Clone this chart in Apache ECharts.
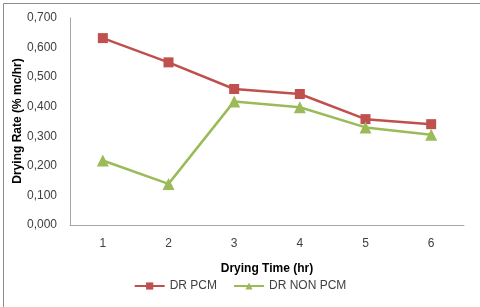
<!DOCTYPE html>
<html><head><meta charset="utf-8">
<script src="https://cdn.jsdelivr.net/npm/echarts@6/dist/echarts.min.js"></script>
<style>html,body{margin:0;padding:0;background:#fff}#c{width:480px;height:307px}</style>
</head><body><div id="c"></div>
<script>
const categories = ['1','2','3','4','5','6'];
const drPcm = [0.632, 0.550, 0.460, 0.443, 0.358, 0.341];
const drNonPcm = [0.218, 0.139, 0.418, 0.398, 0.330, 0.305];
const seriesNames = ['DR PCM', 'DR NON PCM'];
const yTitle = 'Drying Rate (% mc/hr)';
const chart = echarts.init(document.getElementById('c'), null, {renderer:'canvas'});
const font = 'Liberation Sans';
chart.setOption({
  animation:false,
  backgroundColor:'#fff',
  graphic:[
    {type:'rect',left:1,top:1,shape:{width:477,height:304},style:{fill:'none',stroke:'#8c8c8c',lineWidth:1}},
    {type:'text',x:18,y:121,rotation:Math.PI/2,
      style:{text:yTitle,fontFamily:font,fontSize:12,fontWeight:'bold',fill:'#000',
        align:'center',verticalAlign:'middle'}}
  ],
  grid:{left:70,right:16,top:18,bottom:82},
  legend:{bottom:10,left:'center',itemWidth:30,itemHeight:9,itemGap:16,
    textStyle:{fontFamily:font,fontSize:12,color:'#404040'},data:seriesNames},
  xAxis:{type:'category',data:categories,boundaryGap:true,
    name:'Drying Time (hr)',nameLocation:'middle',nameGap:38,
    nameTextStyle:{fontFamily:font,fontSize:12,fontWeight:'bold',color:'#000'},
    axisLine:{lineStyle:{color:'#a6a6a6',width:1}},axisTick:{show:false},
    axisLabel:{fontFamily:font,fontSize:12,color:'#404040',margin:13}},
  yAxis:{type:'value',min:0,max:0.7,interval:0.1,
    axisLine:{show:true,lineStyle:{color:'#a6a6a6',width:1}},axisTick:{show:false},
    splitLine:{show:false},
    axisLabel:{fontFamily:font,fontSize:12,color:'#404040',margin:13,
      formatter:v=>v.toFixed(3).replace('.',',')}},
  series:[
    {name:seriesNames[0],type:'line',data:drPcm,symbol:'rect',symbolSize:10,
      itemStyle:{color:'#C0504D'},lineStyle:{color:'#C0504D',width:2.5}},
    {name:seriesNames[1],type:'line',data:drNonPcm,symbol:'triangle',symbolSize:12,
      itemStyle:{color:'#9BBB59'},lineStyle:{color:'#9BBB59',width:2.5}}
  ]
});
</script></body></html>
